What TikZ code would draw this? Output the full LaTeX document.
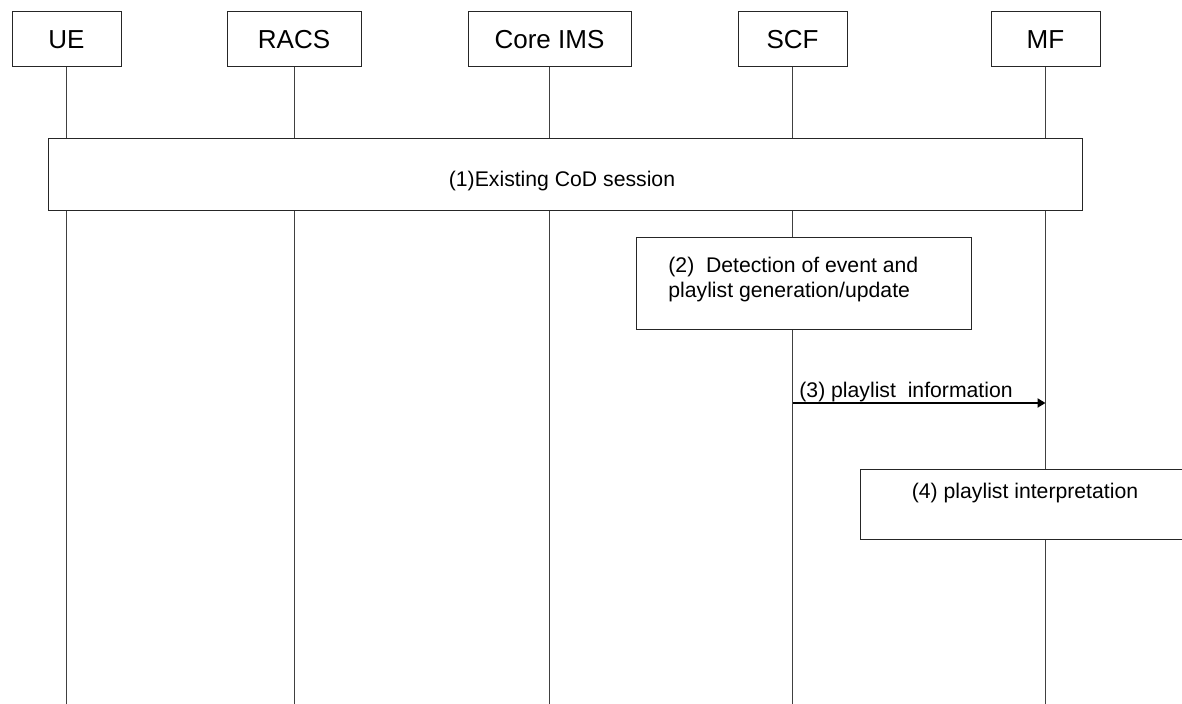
\documentclass[tikz,border=0pt]{standalone}
\usepackage{fontspec}
\setmainfont{Liberation Sans}
\usetikzlibrary{arrows.meta}
\begin{document}
\begin{tikzpicture}[x=0.5pt,y=-0.5pt,
  entity/.style={draw=black!85, line width=0.5pt, minimum height=27.5pt, inner sep=0pt, font=\fontsize{13}{15.6}\selectfont},
  life/.style={draw=black!75, line width=0.5pt},
  stepbox/.style={draw=black!85, fill=white, line width=0.5pt, inner sep=0pt},
  lbl/.style={font=\fontsize{10.6}{12.5}\selectfont, inner sep=0pt},
  msg/.style={line width=1.1pt, -{Triangle[length=4pt,width=4.5pt]}}]
\useasboundingbox (0,0) rectangle (1182,704);
\clip (0,0) rectangle (1182,704);
% entities
\node[entity, minimum width=54.5pt] (ue) at (66.5,39.5) {UE};
\node[entity, minimum width=67pt] (racs) at (294,39.5) {RACS};
\node[entity, minimum width=81.5pt] (ims) at (549.5,39.5) {Core IMS};
\node[entity, minimum width=54.5pt] (scf) at (792.5,39.5) {SCF};
\node[entity, minimum width=54.5pt] (mf) at (1045.5,39.5) {MF};
% lifelines
\coordinate (bot) at (0,704);
\foreach \n in {ue,racs,ims,scf,mf} \draw[life] (\n.south) -- (\n.south |- bot);
% (1)
\node[stepbox, minimum width=517pt, minimum height=36pt] (s1) at (565,175) {};
\node[lbl] (s1t) at (562,181) {(1)Existing CoD session};
% (2)
\node[stepbox, minimum width=167.5pt, minimum height=46pt] (s2) at (803.5,284) {};
\node[lbl, align=left, anchor=west] (s2t) at (668,280) {(2)\ \ Detection of event and\\playlist generation/update};
% (3)
\coordinate (m3) at (0,403);
\draw[msg] (scf |- m3) -- (mf |- m3);
\node[lbl, anchor=base west] (m3t) at (799,398) {(3) playlist\ \ information};
% (4)
\node[stepbox, minimum width=170pt, minimum height=35pt, anchor=north west] (s4) at (860,469) {};
\node[lbl] (s4t) at (1025,493) {(4) playlist interpretation};
\end{tikzpicture}
\end{document}
